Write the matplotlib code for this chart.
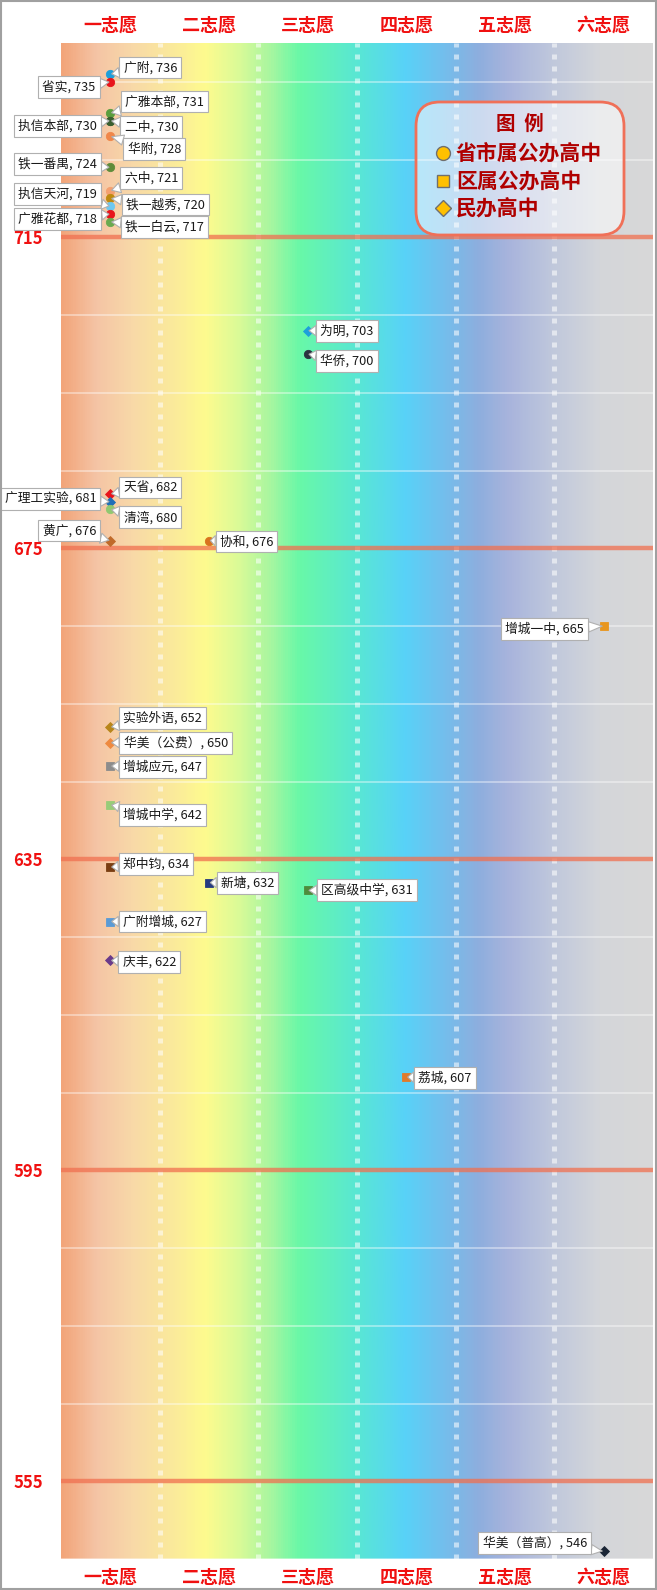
import numpy as np
import matplotlib
matplotlib.use("Agg")
import matplotlib.pyplot as plt
from matplotlib.colors import LinearSegmentedColormap
from matplotlib.patches import FancyBboxPatch, Rectangle
from matplotlib.transforms import IdentityTransform

plt.rcParams['font.family'] = ['Noto Sans CJK SC', 'DejaVu Sans']

# ---- data ----
choices = ["一志愿", "二志愿", "三志愿", "四志愿", "五志愿", "六志愿"]
major_ticks = [555, 595, 635, 675, 715]

schools = ["广附", "省实", "广雅本部", "执信本部", "二中", "华附", "铁一番禺", "六中",
           "铁一越秀", "执信天河", "广雅花都", "铁一白云", "为明", "华侨", "天省",
           "广理工实验", "清湾", "黄广", "协和", "增城一中", "实验外语", "华美（公费）",
           "增城应元", "增城中学", "郑中钧", "新塘", "区高级中学", "广附增城", "庆丰",
           "荔城", "华美（普高）"]
scores = [736, 735, 731, 730, 730, 728, 724, 721, 720, 719, 718, 717, 703, 700, 682,
          681, 680, 676, 676, 665, 652, 650, 647, 642, 634, 632, 631, 627, 622, 607, 546]
choice_no = [1, 1, 1, 1, 1, 1, 1, 1, 1, 1, 1, 1, 3, 3, 1,
             1, 1, 1, 2, 6, 1, 1, 1, 1, 1, 2, 3, 1, 1, 4, 6]
# o = 省市属公办, s = 区属公办, D = 民办
kinds = ["o", "o", "o", "o", "o", "o", "o", "o", "o", "o", "o", "o", "D", "o", "D",
         "D", "o", "D", "o", "s", "D", "D", "s", "s", "s", "s", "s", "s", "D", "s", "D"]

legend_names = ["省市属公办高中", "区属公办高中", "民办高中"]
legend_kinds = ["o", "s", "D"]

# ---- styles ----
point_colors = ["#1E9FDB", "#E8141B", "#5A9E3E", "#3F6F33", "#3A5F30", "#F0874A",
                "#5E8C3A", "#F4A070", "#C08A10", "#6EC8F0", "#E8141B", "#6AAA50",
                "#1E9FDB", "#2A3340", "#E8141B", "#1F6FB8", "#90C870", "#C06A2A",
                "#D9741E", "#E8961E", "#B8861B", "#EE8A40", "#8C8C8C", "#98CC78",
                "#7A3E12", "#263A80", "#4E8C3C", "#5B9BD5", "#6A3A8A", "#E07A2A",
                "#1A2535"]
# label box offsets from marker, pixels (dx right, dy down)
label_offsets = [(40, -6.5), (-41.5, 5.5), (54, -11.5), (-53, 5), (41, 6), (44, 13),
                 (-53, -3.5), (41, -12.5), (55, 6), (-52.5, -12), (-52.5, 5), (54.5, 5),
                 (39.5, 0), (39.5, 7), (40, -6.5), (-60, -2.5), (40, 8), (-41, -10),
                 (37.5, 1), (-59, 3), (52.5, -9), (65.5, 0), (52.5, 1), (52.5, 10),
                 (45.5, -3), (38.5, 0), (59.5, 0), (52, 0), (39, 2), (38.5, 1),
                 (-69, -8.5)]

grad_stops = [(0.00, "#F2A57A"), (0.057, "#F5C4A5"), (0.117, "#F8D8A8"),
              (0.192, "#FBEB9A"), (0.243, "#FEFB8E"), (0.302, "#D8FA98"),
              (0.353, "#A8F6A0"), (0.403, "#68F8A8"), (0.505, "#58E6D6"),
              (0.582, "#58D2F8"), (0.640, "#70C0EE"), (0.708, "#8EAEDE"),
              (0.758, "#A8B4DC"), (0.833, "#C0C8DC"), (0.910, "#D4D6DA"),
              (1.00, "#D8D8D8")]

W, H = 657, 1590
fig = plt.figure(figsize=(W / 100, H / 100), dpi=100)
ax = fig.add_axes([61 / W, 31 / H, 592 / W, 1516 / H])

ylo, yhi = 545, 740
cmap = LinearSegmentedColormap.from_list("bands", grad_stops)
ax.imshow(np.linspace(0, 1, 600).reshape(1, -1), cmap=cmap, aspect="auto",
          extent=(0.5, 6.5, ylo, yhi), zorder=0)
ax.set_xlim(0.5, 6.5)
ax.set_ylim(ylo, yhi)

# grid
ax.set_yticks(major_ticks)
ax.set_yticks(np.arange(545, 740, 10), minor=True)
ax.set_xticks(np.arange(1, 7))
ax.set_xticks(np.arange(1.5, 6.5, 1), minor=True)
ax.grid(which="minor", axis="y", color="white", alpha=0.5, lw=1.1, zorder=1)
ax.grid(which="major", axis="y", color="#F07050", alpha=0.75, lw=3.2, zorder=1)
ax.grid(which="minor", axis="x", color="white", alpha=0.55, lw=3.6,
        linestyle=(0, (1.0, 1.4)), zorder=1)
ax.set_axisbelow(False)

for s in ax.spines.values():
    s.set_visible(False)
ax.tick_params(which="both", length=0)
ax.tick_params(axis="x", labeltop=True, labelbottom=True, pad=6)
ax.set_xticklabels(choices, color="#F01010", fontsize=13, fontweight="bold")
ax.set_yticklabels([str(t) for t in major_ticks], color="#F01010", fontsize=12,
                   fontweight="bold")
ax.tick_params(axis="y", pad=13)

# points + callouts
for i in range(len(schools)):
    ax.plot(choice_no[i], scores[i], marker=kinds[i], linestyle="none",
            markersize=6 if kinds[i] == "o" else 5.2,
            color=point_colors[i], mec=point_colors[i], mew=0.6, zorder=4)
for i in range(len(schools)):
    dx, dy = label_offsets[i]
    ax.annotate(f"{schools[i]}, {scores[i]}", xy=(choice_no[i], scores[i]),
                xytext=(dx, -dy), textcoords="offset pixels",
                ha="center", va="center", fontsize=9.2, color="#1A1A1A", zorder=5,
                bbox=dict(boxstyle="square,pad=0.33", fc="white", ec="#B0B0B0", lw=0.8),
                arrowprops=dict(arrowstyle="wedge,tail_width=0.8", fc="white",
                                ec="#B0B0B0", lw=0.8, shrinkA=0, shrinkB=1))

# legend box (pixel coordinates, origin bottom-left)
lx0, lx1, ly0, ly1 = 416, 624, H - 235, H - 102
fig.patches.append(FancyBboxPatch((lx0, ly0), lx1 - lx0, ly1 - ly0,
                                  boxstyle="round,pad=0,rounding_size=24",
                                  transform=IdentityTransform(), fc="white", alpha=0.55,
                                  ec="none", zorder=6))
fig.patches.append(FancyBboxPatch((lx0, ly0), lx1 - lx0, ly1 - ly0,
                                  boxstyle="round,pad=0,rounding_size=24",
                                  transform=IdentityTransform(), fc="none",
                                  ec="#F07058", lw=2, zorder=7))
fig.text(520 / W, 1 - 124 / H, "图  例", ha="center", va="center", fontsize=14,
         fontweight="bold", color="#B00000", zorder=8)
for k, (nm, mk) in enumerate(zip(legend_names, legend_kinds)):
    yy = 1 - (153 + 27.5 * k) / H
    fig.lines.append(plt.Line2D([443 / W], [yy], marker=mk, transform=fig.transFigure,
                                markersize={"o": 10, "s": 9, "D": 8}[mk], color="#FFC000",
                                mec="#6F6F6F", mew=1, zorder=8))
    fig.text(456 / W, yy, nm, ha="left", va="center", fontsize=15, fontweight="bold",
             color="#B00000", zorder=8)

# outer frame
fig.patches.append(Rectangle((0.001, 0.0005), 0.997, 0.999, transform=fig.transFigure,
                             fc="none", ec="#A0A0A0", lw=1.5, zorder=10))

fig.savefig("out.png", dpi=100)
